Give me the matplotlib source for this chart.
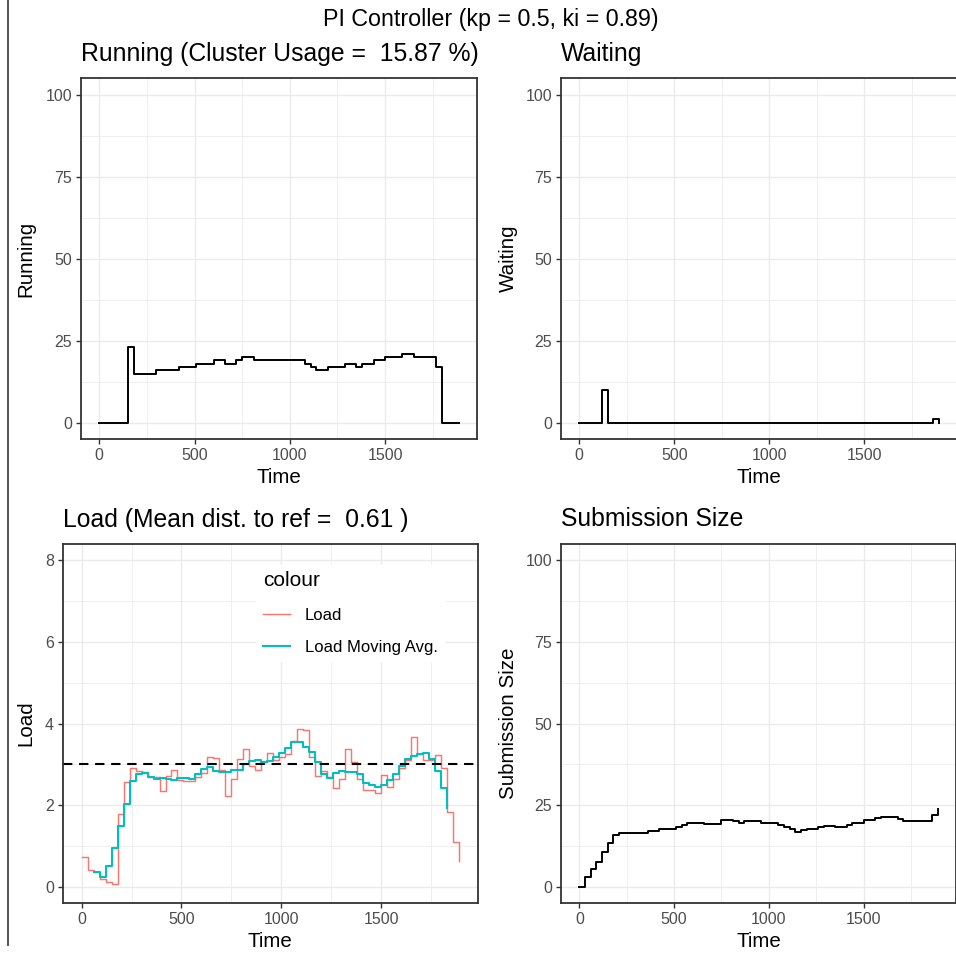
import numpy as np
import matplotlib
matplotlib.use("Agg")
import matplotlib.pyplot as plt
from matplotlib.lines import Line2D

plt.rcParams['font.family'] = ['Liberation Sans', 'DejaVu Sans']

# ---------------- data ----------------
time = np.arange(0, 1891, 30)

running = [0, 0, 0, 0, 0, 23, 15, 15, 15, 15, 16, 16, 16, 16, 17, 17, 17,
           18, 18, 18, 19, 19, 18, 18, 19, 20, 20, 19, 19, 19, 19, 19, 19,
           19, 19, 19, 18, 17, 16, 16, 17, 17, 17, 18, 18, 17, 18, 18, 19,
           19, 20, 20, 20, 21, 21, 20, 20, 20, 20, 17, 0, 0, 0, 0]

waiting = [0, 0, 0, 0, 10] + [0] * 57 + [1, 0]

load = [0.72, 0.41, 0.35, 0.19, 0.11, 0.07, 1.79, 2.57, 2.90, 2.84, 2.82,
        2.69, 2.69, 2.35, 2.71, 2.86, 2.61, 2.59, 2.59, 2.69, 2.79, 3.19,
        3.16, 2.86, 2.22, 2.65, 3.13, 3.37, 2.96, 2.87, 3.06, 3.27, 3.10,
        3.17, 3.25, 3.57, 3.86, 3.83, 3.19, 2.71, 2.84, 2.69, 2.41, 2.65,
        3.37, 3.06, 2.63, 2.38, 2.38, 2.30, 2.74, 2.44, 2.65, 2.92, 3.10,
        3.68, 3.25, 3.10, 3.10, 3.23, 2.90, 1.83, 1.09, 0.64]

load_ma_time = np.arange(60, 1831, 30)
load_ma = [0.36, 0.23, 0.50, 0.95, 1.49, 2.03, 2.58, 2.76, 2.79, 2.68,
           2.65, 2.66, 2.64, 2.62, 2.67, 2.67, 2.65, 2.77, 2.88, 2.94,
           2.84, 2.82, 2.80, 2.85, 2.87, 3.00, 3.08, 3.11, 3.05, 3.09,
           3.17, 3.27, 3.39, 3.54, 3.54, 3.43, 3.29, 3.05, 2.77, 2.66,
           2.79, 2.84, 2.82, 2.82, 2.76, 2.55, 2.49, 2.45, 2.50, 2.61,
           2.77, 2.96, 3.12, 3.21, 3.25, 3.27, 3.12, 2.83, 2.43, 1.94]

submission = [0, 3.1, 5.5, 7.7, 10.6, 13.4, 15.7, 16.3, 16.3, 16.3, 16.3,
              16.3, 17.0, 17.0, 17.8, 17.8, 17.8, 18.4, 18.9, 19.4, 19.6,
              19.6, 19.1, 19.1, 19.1, 20.5, 20.5, 20.1, 19.5, 20.05, 20.05,
              20.05, 19.5, 19.5, 19.5, 19.0, 18.2, 17.6, 16.7, 17.25, 17.8,
              17.8, 18.3, 18.6, 18.6, 18.2, 18.2, 18.8, 19.6, 19.6, 20.45,
              20.45, 21.0, 21.5, 21.5, 21.5, 20.7, 20.05, 20.05, 20.05,
              20.05, 20.05, 21.9, 23.8]

load_ref = 3

main_title = "PI Controller (kp = 0.5, ki = 0.89)"
panel_titles = ["Running (Cluster Usage =  15.87 %)", "Waiting",
                "Load (Mean dist. to ref =  0.61 )", "Submission Size"]
y_titles = ["Running", "Waiting", "Load", "Submission Size"]
legend_title = "colour"
legend_labels = ["Load", "Load Moving Avg."]

assert len(running) == len(time) == len(waiting) == len(load) == len(submission)
assert len(load_ma) == len(load_ma_time)

# ---------------- style ----------------
W, H = 956, 955
fig = plt.figure(figsize=(W / 100, H / 100), dpi=100)

C_RED = "#F8766D"
C_CYAN = "#00BFC4"
GRID = "#EBEBEB"
BORDER = "#333333"
TICKC = "#4D4D4D"

TICK_FS = 11.5
AXT_FS = 14.8
TITLE_FS = 17.8


def add_ax(l, t, r, b):
    return fig.add_axes([l / W, 1 - b / H, (r - l) / W, (b - t) / H])


def style(ax, ymajor, yminor, ylim):
    ax.set_xlim(-94.5, 1984.5)
    ax.set_ylim(*ylim)
    ax.set_xticks([0, 500, 1000, 1500])
    ax.set_xticks([250, 750, 1250, 1750], minor=True)
    ax.set_yticks(ymajor)
    ax.set_yticks(yminor, minor=True)
    ax.set_xticklabels([str(v) for v in [0, 500, 1000, 1500]])
    ax.grid(True, which='major', color=GRID, lw=1.0)
    ax.grid(True, which='minor', color=GRID, lw=0.55)
    ax.set_axisbelow(True)
    for s in ax.spines.values():
        s.set_color(BORDER)
        s.set_linewidth(1.3)
    ax.tick_params(which='major', length=3.7, width=1.0, color=BORDER,
                   labelsize=TICK_FS, labelcolor=TICKC, pad=2.8)
    ax.tick_params(which='minor', length=0)


rects = [
    (81.3, 78.3, 477.3, 439.1),
    (561.3, 78.3, 956.5, 439.1),
    (62.8, 544.0, 477.8, 903.0),
    (561.4, 544.0, 955.5, 903.0),
]
axes = [add_ax(*r) for r in rects]

pct_major = [0, 25, 50, 75, 100]
pct_minor = [12.5, 37.5, 62.5, 87.5]

# Running
ax = axes[0]
style(ax, pct_major, pct_minor, (-5, 105))
ax.step(time, running, where='post', color='black', lw=1.4)

# Waiting
ax = axes[1]
style(ax, pct_major, pct_minor, (-5, 105))
ax.step(time, waiting, where='post', color='black', lw=1.4)

# Load
ax = axes[2]
style(ax, [0, 2, 4, 6, 8], [1, 3, 5, 7], (-0.4, 8.4))
ax.step(time, load, where='post', color=C_RED, lw=1.05)
ax.step(load_ma_time, load_ma, where='post', color=C_CYAN, lw=1.5)
ax.axhline(load_ref, color='black', lw=1.5, dashes=(4.5, 3.2))
handles = [Line2D([], [], color=C_RED, lw=1.05),
           Line2D([], [], color=C_CYAN, lw=1.5)]
leg = ax.legend(handles, legend_labels, title=legend_title,
                loc='upper left', bbox_to_anchor=(0.466, 0.942),
                frameon=True, fancybox=False, framealpha=1.0,
                facecolor='white', edgecolor='white',
                fontsize=12, title_fontsize=15, alignment='left',
                handlelength=1.65, handletextpad=0.85, labelspacing=1.03,
                borderpad=0.4, borderaxespad=0.0)
for t in leg.get_texts():
    t.set_color('black')

# Submission Size
ax = axes[3]
style(ax, pct_major, pct_minor, (-5, 105))
ax.step(time, submission, where='post', color='black', lw=1.4)

# ---------------- texts ----------------
def ftext(x, y, s, **kw):
    fig.text(x / W, 1 - y / H, s, **kw)


ftext(490.5, 26, main_title, ha='center', va='baseline', fontsize=16.75,
      color='black')
for i, (r, ttl) in enumerate(zip(rects, panel_titles)):
    l, t, rr, b = r
    ftext(l, t - 17.5, ttl, ha='left', va='baseline', fontsize=TITLE_FS,
          color='black')
    xc = (l + min(rr, 956.5)) / 2
    ftext(xc, b + 38, "Time", ha='center', va='center', fontsize=AXT_FS,
          color='black')
    ylx = 26 if i % 2 == 0 else 508
    ftext(ylx, (t + b) / 2, y_titles[i], ha='center', va='center',
          rotation=90, fontsize=AXT_FS, color='black')

# left border line of the figure
fig.add_artist(Line2D([7.5 / W, 7.5 / W], [1.0, 1 - 945 / H],
                      transform=fig.transFigure, color='#444444', lw=1.3))

fig.savefig("out.png", dpi=100)
